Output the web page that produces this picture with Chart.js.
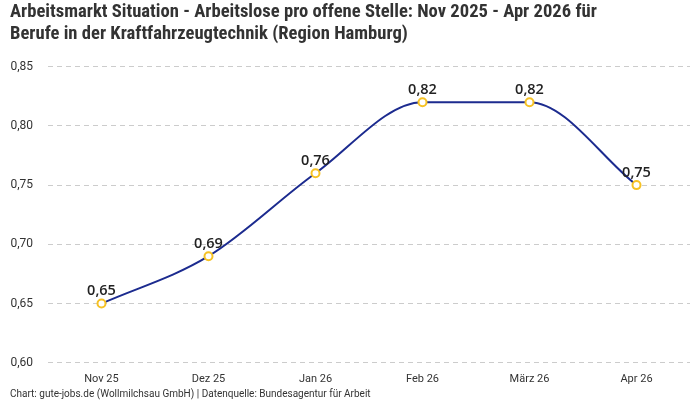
<!DOCTYPE html>
<html lang="de">
<head>
  <meta charset="UTF-8">
  <title>Arbeitsmarkt Situation</title>
  <script src="https://cdn.jsdelivr.net/npm/chart.js"></script>
  <style>
    body {
      margin: 0;
      background: #ffffff;
    }
    #wrap {
      width: 700px;
      height: 400px;
    }
  </style>
</head>
<body>
  <div id="wrap">
    <canvas id="lineChart" width="700" height="400"></canvas>
  </div>

  <script>
    const months = ['Nov 25', 'Dez 25', 'Jan 26', 'Feb 26', 'März 26', 'Apr 26'];
    const ratio = [0.65, 0.69, 0.76, 0.82, 0.82, 0.75];
    const yTicks = [0.60, 0.65, 0.70, 0.75, 0.80, 0.85];

    const titleLines = [
      'Arbeitsmarkt Situation - Arbeitslose pro offene Stelle: Nov 2025 - Apr 2026 für',
      'Berufe in der Kraftfahrzeugtechnik (Region Hamburg)'
    ];
    const sourceText = 'Chart: gute-jobs.de (Wollmilchsau GmbH) | Datenquelle: Bundesagentur für Arbeit';

    const fmt = v => v.toFixed(2).replace('.', ',');

    // value labels above each point
    const pointLabels = {
      id: 'pointLabels',
      afterDatasetsDraw(chart) {
        const ctx = chart.ctx;
        const meta = chart.getDatasetMeta(0);
        ctx.save();
        ctx.font = '600 14.5px "Open Sans", sans-serif';
        ctx.fillStyle = '#222';
        ctx.textAlign = 'center';
        ctx.textBaseline = 'bottom';
        meta.data.forEach((pt, i) => {
          ctx.fillText(fmt(ratio[i]), pt.x, pt.y - 5);
        });
        ctx.restore();
      }
    };

    new Chart(document.getElementById('lineChart'), {
      type: 'line',
      data: {
        labels: months,
        datasets: [{
          data: ratio,
          borderColor: '#1c2b8f',
          borderWidth: 2,
          cubicInterpolationMode: 'monotone',
          pointRadius: 4,
          pointBorderWidth: 2,
          pointBackgroundColor: '#ffffff',
          pointBorderColor: '#f6c225',
          fill: false
        }]
      },
      options: {
        responsive: false,
        animation: false,
        layout: { padding: { left: 10, right: 10, top: 0, bottom: 0 } },
        plugins: {
          legend: { display: false },
          tooltip: { enabled: false },
          title: {
            display: true,
            text: titleLines,
            align: 'start',
            color: '#333',
            font: { family: '"Liberation Sans Narrow", "Roboto Condensed", Roboto, sans-serif', size: 18.6, weight: 'bold', lineHeight: 1.2 },
            padding: { top: 1, bottom: 21 }
          },
          subtitle: {
            display: true,
            text: sourceText,
            position: 'bottom',
            align: 'start',
            color: '#333',
            font: { family: 'Roboto, sans-serif', size: 10 },
            padding: { top: 0, bottom: 0 }
          }
        },
        scales: {
          x: {
            offset: true,
            grid: { display: false },
            border: { display: false },
            ticks: { color: '#333', font: { family: 'Roboto, sans-serif', size: 11 }, padding: 2 }
          },
          y: {
            min: 0.6,
            max: 0.85,
            afterBuildTicks(axis) {
              axis.ticks = yTicks.map(v => ({ value: v }));
            },
            afterFit(axis) {
              axis.width = 38;
            },
            grid: { color: '#cccccc', drawTicks: false },
            border: { display: false, dash: [5, 4] },
            ticks: {
              color: '#333',
              font: { family: 'Roboto, sans-serif', size: 12 },
              padding: 15,
              callback: v => fmt(v)
            }
          }
        }
      },
      plugins: [pointLabels]
    });
  </script>
</body>
</html>
